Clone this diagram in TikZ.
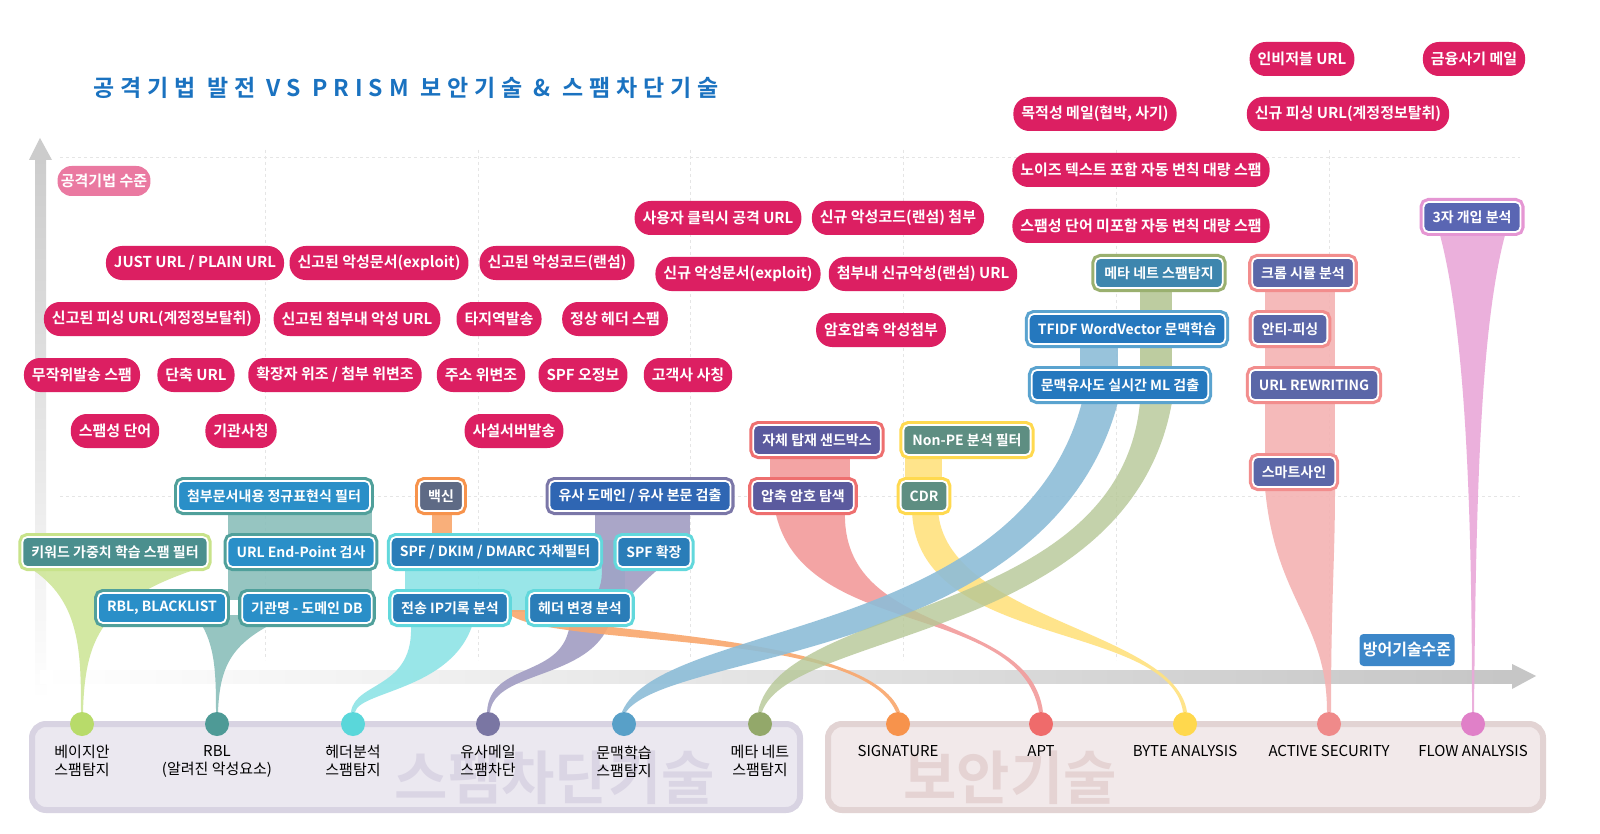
\documentclass[tikz,border=0pt]{standalone}
\usepackage{fontspec}
\setmainfont{Noto Sans CJK KR}
\newfontfamily\bk{Noto Sans CJK KR Bold}
\newfontfamily\bkw[LetterSpace=26]{Noto Sans CJK KR Bold}
\usetikzlibrary{shadings}
\definecolor{atkc}{HTML}{DC1F62}
\definecolor{ttl}{HTML}{1A72C0}
\definecolor{bayO}{HTML}{C8E38A}\definecolor{bayI}{HTML}{4B8F8E}\definecolor{bayR}{HTML}{CFE69A}\definecolor{bayD}{HTML}{B8DB6A}
\definecolor{rblO}{HTML}{50A09B}\definecolor{rblI}{HTML}{2A8FC8}\definecolor{rblR}{HTML}{8BBFBB}\definecolor{rblD}{HTML}{4E9A96}
\definecolor{hdrO}{HTML}{62D8DC}\definecolor{hdrI}{HTML}{2A7DB8}\definecolor{hdrR}{HTML}{8EE4E6}\definecolor{hdrD}{HTML}{5AD7DA}
\definecolor{vacO}{HTML}{F7934C}\definecolor{vacI}{HTML}{5E6A85}\definecolor{vacR}{HTML}{F9A76C}
\definecolor{simO}{HTML}{7B77A8}\definecolor{simI}{HTML}{2F66B3}\definecolor{simR}{HTML}{A19DC3}\definecolor{simD}{HTML}{7A76A3}
\definecolor{sanO}{HTML}{EE6F6F}\definecolor{sanI}{HTML}{5B5A9E}\definecolor{sanR}{HTML}{F29B9B}
\definecolor{npeO}{HTML}{FFD94F}\definecolor{npeI}{HTML}{5E8E82}\definecolor{npeR}{HTML}{FFE27F}
\definecolor{metO}{HTML}{9AB06F}\definecolor{metI}{HTML}{3E86AE}\definecolor{metR}{HTML}{B6C796}\definecolor{metD}{HTML}{93A86A}
\definecolor{ctxO}{HTML}{5AA3CF}\definecolor{ctxI}{HTML}{2578BE}\definecolor{ctxR}{HTML}{8DBDD8}\definecolor{ctxD}{HTML}{58A0C8}
\definecolor{actO}{HTML}{F28D8D}\definecolor{actI}{HTML}{5B67A8}\definecolor{actR}{HTML}{F4B3B3}\definecolor{actD}{HTML}{EF8A8A}
\definecolor{floO}{HTML}{E596D3}\definecolor{floI}{HTML}{5A66B3}\definecolor{floR}{HTML}{E9A8D9}\definecolor{floD}{HTML}{E080C8}
\definecolor{sigD}{HTML}{F7934C}\definecolor{aptD}{HTML}{EF6B6B}\definecolor{bytD}{HTML}{FFD84D}
\tikzset{
 atk/.style={fill=atkc,text=white,rounded corners=16pt,minimum height=34pt,inner xsep=8pt,font=\bk\fontsize{15}{15}\selectfont},
 def/.style n args={2}{fill=#1,draw=white,line width=1.8pt,rounded corners=5pt,minimum height=30pt,inner xsep=9pt,text=white,font=\bk\fontsize{14}{14}\selectfont,preaction={draw=#2,line width=8pt}},
 dotc/.style={circle,minimum size=24pt,inner sep=0pt,fill=#1},
 blab/.style={font=\fontsize{15}{18}\selectfont,align=center,anchor=north},
 rb/.style={fill=#1,opacity=.9}
}
\begin{document}
\begin{tikzpicture}[x=1pt,y=-1pt]
\useasboundingbox (0,0) rectangle (1600,834);
\fill[white] (0,0) rectangle (1600,834);
% grid
\foreach \x in {265,478,690,903,1116,1329}{\draw[gray!20,dashed] (\x,150)--(\x,660);}
\foreach \y in {157,496}{\draw[gray!20,dashed] (60,\y)--(1520,\y);}
% title
\node[anchor=west,text=ttl,font=\bkw\fontsize{23}{23}\selectfont] (title) at (90,88) {공격기법 발전 VS PRISM 보안기술 \& 스팸차단기술};
% axes
\shade[top color=gray!40,bottom color=white] (35,158) rectangle (46,700);
\fill[gray!40] (29,160)--(40,138)--(52,160)--cycle;
\shade[left color=white,right color=gray!45] (40,670) rectangle (1515,683);
\fill[gray!45] (1512,664)--(1536,676)--(1512,689)--cycle;
\node[fill=atkc!60,text=white,rounded corners=14pt,minimum height=30pt,font=\bk\fontsize{15}{15}\selectfont] (yl) at (104,181) {공격기법 수준};
\node[fill=ttl!85,text=white,rounded corners=4pt,minimum height=32pt,font=\bk\fontsize{16}{16}\selectfont] (xl) at (1407,650) {방어기술수준};
% bottom panels
\draw[line width=6pt,fill={rgb,255:red,235;green,232;blue,240},draw={rgb,255:red,216;green,211;blue,226},rounded corners=14pt] (32,724) rectangle (800,810);
\draw[line width=6pt,fill={rgb,255:red,242;green,233;blue,234},draw={rgb,255:red,226;green,211;blue,211},rounded corners=14pt] (828,724) rectangle (1543,810);
\node[text={rgb,255:red,218;green,213;blue,228},font=\bk\fontsize{58}{58}\selectfont] (wm1) at (555,778) {스팸차단기술};
\node[text={rgb,255:red,229;green,211;blue,211},font=\bk\fontsize{58}{58}\selectfont] (wm2) at (1010,778) {보안기술};
% ribbons
\fill[rb=bayR] (30,568) .. controls (80,600) and (81,650) .. (81,712) -- (83,712) .. controls (85,640) and (100,600) .. (200,568) -- cycle;
\fill[rb=rblR] (228,505) rectangle (372,600);
\fill[rb=rblR] (195,615) .. controls (215,640) and (216,670) .. (216,712) -- (218,712) .. controls (220,660) and (235,640) .. (290,615) -- cycle;
\fill[rb=hdrR] (405,540) rectangle (625,612);
\fill[rb=hdrR] (410,615) .. controls (420,690) and (355,680) .. (351,712) -- (355,712) .. controls (360,690) and (460,690) .. (475,615) -- cycle;
\fill[rb=simR] (595,510) rectangle (690,540);
\fill[rb=simR] (595,540) .. controls (610,580) and (600,600) .. (570,622) .. controls (565,680) and (490,660) .. (487,712) -- (490,712) .. controls (495,670) and (590,680) .. (610,622) .. controls (640,580) and (660,570) .. (690,540) -- cycle;
\fill[rb=vacR] (432,510) rectangle (452,545);
\fill[rb=vacR] (505,610) .. controls (530,650) and (860,625) .. (896,712) -- (900,712) .. controls (870,630) and (560,635) .. (528,610) -- cycle;
\fill[rb=sanR] (770,455) rectangle (850,482);
\fill[rb=sanR] (775,510) .. controls (800,640) and (1020,600) .. (1039,712) -- (1043,712) .. controls (1030,610) and (840,640) .. (845,510) -- cycle;
\fill[rb=npeR] (905,455) rectangle (942,482);
\fill[rb=npeR] (912,510) .. controls (915,650) and (1170,620) .. (1183,712) -- (1187,712) .. controls (1175,630) and (945,620) .. (938,510) -- cycle;
\fill[rb=ctxR] (1080,345) rectangle (1118,370);
\fill[rb=ctxR] (1082,402) .. controls (1020,640) and (660,620) .. (622,712) -- (626,712) .. controls (670,650) and (1050,660) .. (1118,402) -- cycle;
\fill[rb=metR] (1140,290) rectangle (1172,404);
\fill[rb=metR,opacity=.8] (1140,402) .. controls (1120,620) and (780,600) .. (758,712) -- (762,712) .. controls (790,630) and (1130,640) .. (1172,402) -- cycle;
\fill[rb=actR] (1265,285) rectangle (1335,480);
\fill[rb=actR] (1265,488) .. controls (1275,600) and (1327,620) .. (1327,712) -- (1331,712) .. controls (1331,600) and (1335,560) .. (1335,488) -- cycle;
\fill[rb=floR] (1440,235) .. controls (1465,330) and (1472,500) .. (1472,712) -- (1474,712) .. controls (1476,500) and (1480,330) .. (1505,235) -- cycle;
% attack pills
\node[atk] (a1) at (195,263) {JUST URL / PLAIN URL};
\node[atk] (a2) at (379,263) {신고된 악성문서(exploit)};
\node[atk] (a3) at (557,263) {신고된 악성코드(랜섬)};
\node[atk] (a4) at (152,319) {신고된 피싱 URL(계정정보탈취)};
\node[atk] (a5) at (357,319) {신고된 첨부내 악성 URL};
\node[atk] (a6) at (499,319) {타지역발송};
\node[atk] (a7) at (615,319) {정상 헤더 스팸};
\node[atk] (a8) at (82,375) {무작위발송 스팸};
\node[atk] (a9) at (196,375) {단축 URL};
\node[atk] (a10) at (335,375) {확장자 위조 / 첨부 위변조};
\node[atk] (a11) at (481,375) {주소 위변조};
\node[atk] (a12) at (583,375) {SPF 오정보};
\node[atk] (a13) at (688,375) {고객사 사칭};
\node[atk] (a14) at (115,431) {스팸성 단어};
\node[atk] (a15) at (241,431) {기관사칭};
\node[atk] (a16) at (514,431) {사설서버발송};
\node[atk] (a17) at (718,218) {사용자 클릭시 공격 URL};
\node[atk] (a18) at (898,218) {신규 악성코드(랜섬) 첨부};
\node[atk] (a19) at (738,274) {신규 악성문서(exploit)};
\node[atk] (a20) at (923,274) {첨부내 신규악성(랜섬) URL};
\node[atk] (a21) at (881,330) {암호압축 악성첨부};
\node[atk] (a22) at (1095,114) {목적성 메일(협박, 사기)};
\node[atk] (a23) at (1141,170) {노이즈 텍스트 포함 자동 변칙 대량 스팸};
\node[atk] (a24) at (1141,226) {스팸성 단어 미포함 자동 변칙 대량 스팸};
\node[atk] (a25) at (1302,59) {인비저블 URL};
\node[atk] (a26) at (1474,59) {금융사기 메일};
\node[atk] (a27) at (1348,114) {신규 피싱 URL(계정정보탈취)};
% defense boxes
\node[def={bayI}{bayO}] (d1) at (115,552) {키워드 가중치 학습 스팸 필터};
\node[def={rblI}{rblO}] (d2) at (274,496) {첨부문서내용 정규표현식 필터};
\node[def={rblI}{rblO}] (d3) at (301,552) {URL End-Point 검사};
\node[def={rblI}{rblO}] (d4) at (162,608) {RBL, BLACKLIST};
\node[def={rblI}{rblO}] (d5) at (307,608) {기관명 - 도메인 DB};
\node[def={hdrI}{hdrO}] (d6) at (495,552) {SPF / DKIM / DMARC 자체필터};
\node[def={hdrI}{hdrO}] (d7) at (654,552) {SPF 확장};
\node[def={hdrI}{hdrO}] (d8) at (450,608) {전송 IP기록 분석};
\node[def={hdrI}{hdrO}] (d9) at (580,608) {헤더 변경 분석};
\node[def={vacI}{vacO}] (d10) at (441,496) {백신};
\node[def={simI}{simO}] (d11) at (640,496) {유사 도메인 / 유사 본문 검출};
\node[def={sanI}{sanO}] (d12) at (817,440) {자체 탑재 샌드박스};
\node[def={sanI}{sanO}] (d13) at (803,496) {압축 암호 탐색};
\node[def={npeI}{npeO}] (d14) at (967,440) {Non-PE 분석 필터};
\node[def={npeI}{npeO}] (d15) at (924,496) {CDR};
\node[def={metI}{metO}] (d16) at (1159,273) {메타 네트 스팸탐지};
\node[def={ctxI}{ctxO}] (d17) at (1127,329) {TFIDF WordVector 문맥학습};
\node[def={ctxI}{ctxO}] (d18) at (1120,385) {문맥유사도 실시간 ML 검출};
\node[def={actI}{actO}] (d19) at (1303,273) {크롬 시뮬 분석};
\node[def={actI}{actO}] (d20) at (1290,329) {안티-피싱};
\node[def={actI}{actO}] (d21) at (1314,385) {URL REWRITING};
\node[def={actI}{actO}] (d22) at (1294,472) {스마트사인};
\node[def={floI}{floO}] (d23) at (1472,217) {3자 개입 분석};
% dots and labels
\foreach \n/\x/\c/\t in {p1/82/bayD/{베이지안\\스팸탐지},p2/217/rblD/{RBL\\(알려진 악성요소)},p3/353/hdrD/{헤더분석\\스팸탐지},p4/488/simD/{유사메일\\스팸차단},p5/624/ctxD/{문맥학습\\스팸탐지},p6/760/metD/{메타 네트\\스팸탐지},p7/898/sigD/SIGNATURE,p8/1041/aptD/APT,p9/1185/bytD/{BYTE ANALYSIS},p10/1329/actD/{ACTIVE SECURITY},p11/1473/floD/{FLOW ANALYSIS}}{
 \node[dotc=\c] (\n) at (\x,724) {};
 \node[blab] (\n t) at (\x,742) {\t};
}
\end{tikzpicture}
\end{document}
